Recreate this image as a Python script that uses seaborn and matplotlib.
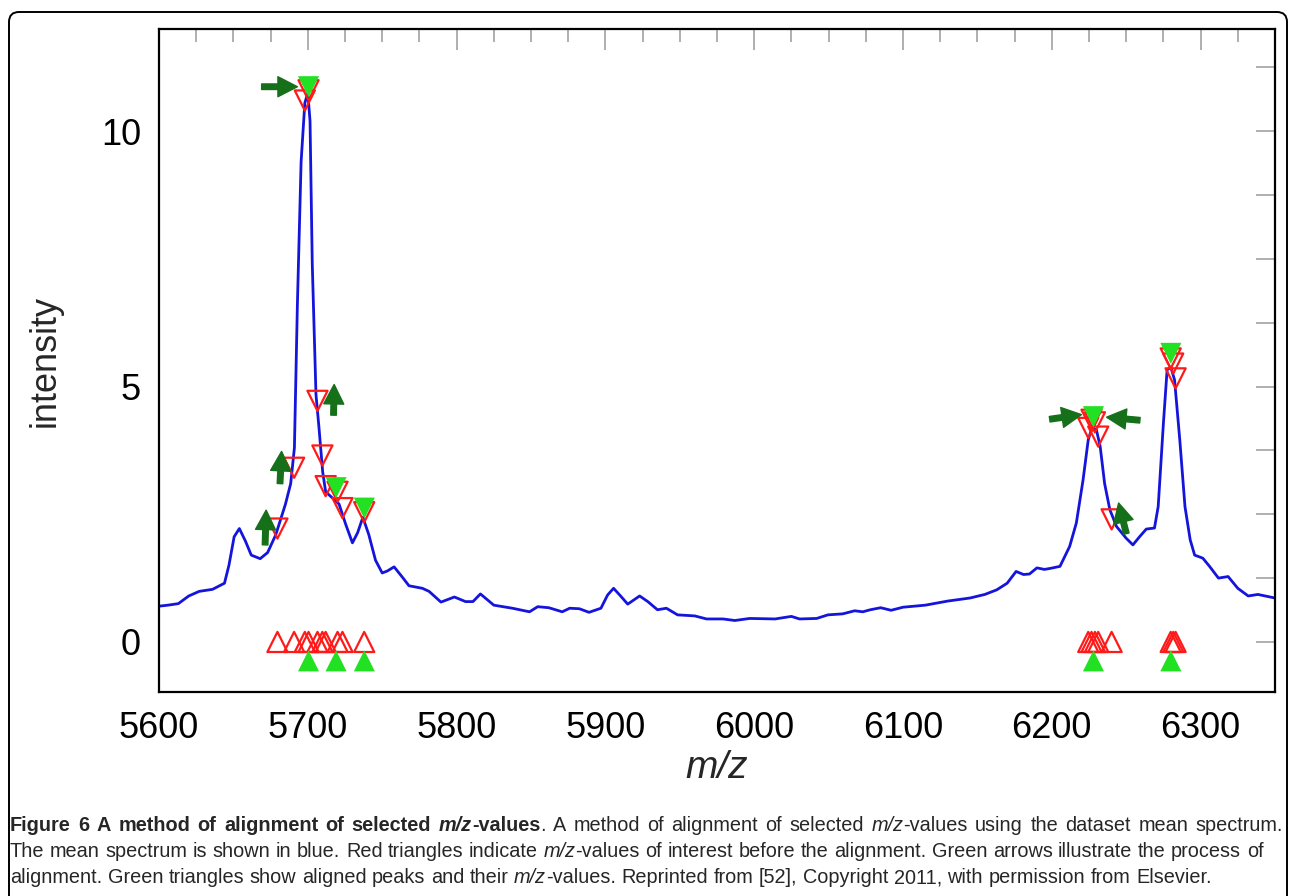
import numpy as np
import pandas as pd
import matplotlib
matplotlib.use("Agg")
import matplotlib.pyplot as plt
from matplotlib.patches import FancyBboxPatch
from matplotlib.ticker import MultipleLocator
import seaborn as sns

# mean spectrum (m/z, intensity)
mz = [5600, 5606, 5613, 5620, 5627, 5636, 5644, 5647, 5650.5, 5654, 5658, 5662,
      5668, 5673, 5678.5, 5685, 5688.5, 5691, 5693, 5695.5, 5698, 5700, 5701.5,
      5703, 5705.5, 5707.5, 5710, 5712, 5716.5, 5721, 5725.5, 5730, 5733.5, 5737,
      5741, 5745.5, 5750, 5753.5, 5758, 5763.5, 5768, 5777, 5781.5, 5789.5, 5798.5,
      5806, 5811, 5816, 5825, 5837.5, 5849, 5854.5, 5862, 5871, 5876, 5882.5, 5889,
      5897, 5901.5, 5905.5, 5910.5, 5915, 5923, 5928.5, 5935, 5941, 5948.5, 5960,
      5968, 5979, 5987, 5997, 6014, 6025, 6030.5, 6042, 6049.5, 6059.5, 6067.5,
      6073, 6078, 6085, 6092, 6100, 6115, 6130, 6145, 6155, 6163, 6170, 6176, 6181,
      6185, 6190, 6195, 6199, 6205.5, 6212, 6216.5, 6221, 6224.5, 6227, 6230,
      6232.5, 6235.5, 6239, 6243.5, 6250, 6254.5, 6259, 6263.5, 6269, 6271.5, 6275,
      6277.5, 6280, 6282.5, 6286, 6289.5, 6293, 6296, 6301.5, 6306, 6312, 6318.5,
      6325, 6332, 6338.5, 6350]
intensity = [0.70, 0.72, 0.75, 0.90, 0.99, 1.03, 1.15, 1.50, 2.06, 2.22, 1.98, 1.70,
             1.63, 1.75, 2.10, 2.70, 3.10, 3.80, 6.60, 9.40, 10.55, 10.75, 10.20,
             7.40, 4.84, 4.20, 3.33, 2.94, 2.82, 2.70, 2.30, 1.94, 2.14, 2.44,
             2.10, 1.60, 1.35, 1.39, 1.47, 1.27, 1.10, 1.05, 0.99, 0.78, 0.88,
             0.79, 0.79, 0.94, 0.72, 0.66, 0.59, 0.69, 0.67, 0.59, 0.66, 0.65, 0.58,
             0.66, 0.92, 1.05, 0.89, 0.74, 0.90, 0.79, 0.63, 0.66, 0.53, 0.51,
             0.45, 0.45, 0.42, 0.46, 0.45, 0.50, 0.45, 0.46, 0.53, 0.55, 0.61,
             0.59, 0.63, 0.67, 0.62, 0.68, 0.72, 0.80, 0.86, 0.93, 1.02, 1.15, 1.38, 1.32,
             1.33, 1.45, 1.42, 1.44, 1.48, 1.87, 2.33, 3.17, 3.96, 4.19, 4.15,
             3.83, 3.10, 2.59, 2.26, 2.03, 1.90, 2.06, 2.21, 2.23, 2.65, 4.28,
             5.33, 5.38, 5.13, 3.96, 2.65, 2.00, 1.70, 1.64, 1.48, 1.25, 1.28,
             1.05, 0.90, 0.93, 0.86]

# m/z values of interest before alignment (red)
red_mz = [5679.6, 5690.8, 5698, 5700.5, 5706.5, 5709.8, 5712, 5720, 5723.3, 5737.9,
          6224.5, 6226.7, 6229, 6231.2, 6240.2, 6279.9, 6281.6, 6283.2]
red_int = [2.22, 3.41, 10.6, 10.8, 4.72, 3.65, 3.05, 2.94, 2.62, 2.54,
           4.19, 4.35, 4.30, 4.02, 2.40, 5.55, 5.45, 5.16]

# aligned peaks (green)
green_mz = [5700.5, 5719, 5738, 6228, 6280]
green_int = [10.87, 3.02, 2.62, 4.41, 5.65]
green_base = -0.37

# alignment arrows: tail (m/z, intensity) -> tip (m/z, intensity)
arrow_tail = [(5669, 10.87), (5671.3, 1.9), (5681.3, 3.1), (5717.3, 4.44),
              (6198.6, 4.36), (6259.2, 4.34), (6250.1, 2.12)]
arrow_tip = [(5693, 10.87), (5672, 2.58), (5682.4, 3.73), (5717.7, 5.04),
             (6219.9, 4.45), (6236.8, 4.40), (6244.9, 2.72)]

spec = pd.DataFrame({"mz": mz, "intensity": intensity})
red = pd.DataFrame({"mz": red_mz, "intensity": red_int})
green = pd.DataFrame({"mz": green_mz, "intensity": green_int})

sns.set_theme(style="white")
plt.rcParams["font.family"] = ["Liberation Sans", "DejaVu Sans"]

W, H = 1293, 896
fig = plt.figure(figsize=(W / 100, H / 100), dpi=100)
ax = fig.add_axes([159 / W, 1 - 692 / H, (1275 - 159) / W, (692 - 29) / H])

sns.lineplot(data=spec, x="mz", y="intensity", ax=ax, color="#1414dc", lw=2.0,
             sort=False, estimator=None, zorder=2)

# red triangles: on the spectrum and on the m/z axis
sns.scatterplot(data=red, x="mz", y="intensity", ax=ax, marker="v", s=210,
                facecolors="none", edgecolor="#ff1a1a", linewidth=1.6, zorder=3)
sns.scatterplot(x=red["mz"], y=np.zeros(len(red)), ax=ax, marker="^", s=210,
                facecolors="none", edgecolor="#ff1a1a", linewidth=1.6, zorder=3)

# green triangles: aligned peaks
sns.scatterplot(data=green, x="mz", y="intensity", ax=ax, marker="v", s=230,
                color="#22e022", edgecolor="none", zorder=4)
sns.scatterplot(x=green["mz"], y=[green_base] * len(green), ax=ax, marker="^", s=230,
                color="#22e022", edgecolor="none", zorder=4)

for (x0, y0), (x1, y1) in zip(arrow_tail, arrow_tip):
    ax.annotate("", xy=(x1, y1), xytext=(x0, y0),
                arrowprops=dict(arrowstyle="simple,head_length=0.7,head_width=0.72,tail_width=0.2",
                                color="#16701a", shrinkA=0, shrinkB=0, mutation_scale=20),
                zorder=5)

ax.set_xlim(5600, 6350)
ax.set_ylim(-0.98, 12.0)
ax.xaxis.set_major_locator(MultipleLocator(100))
ax.xaxis.set_minor_locator(MultipleLocator(25))
ax.yaxis.set_major_locator(MultipleLocator(5))
ax.yaxis.set_minor_locator(MultipleLocator(1.25))
ax.tick_params(which="both", direction="in", top=True, right=True, color="#9a9a9a",
               width=1.1, labelsize=26, labelcolor="black")
ax.tick_params(axis="x", which="major", length=15, pad=14)
ax.tick_params(axis="x", which="minor", length=9.5)
ax.tick_params(axis="y", which="both", length=14, pad=13)
for sp in ax.spines.values():
    sp.set_color("black")
    sp.set_linewidth(1.6)

ax.set_xlabel("m/z", fontsize=28, fontstyle="italic")
ax.set_ylabel("intensity", fontsize=26)
ax.xaxis.set_label_coords(0.5, -0.088)
ax.yaxis.set_label_coords(-0.086, 0.5)

# rounded frame around the whole figure
frame = FancyBboxPatch((0.09, -0.3), 12.78, 8.84 + 0.3,
                       boxstyle="round,pad=0,rounding_size=0.1",
                       transform=fig.dpi_scale_trans, fill=False,
                       edgecolor="black", lw=1.4)
fig.patches.append(frame)

# caption, drawn word by word so bold / italic parts follow each other
fig.canvas.draw()
rend = fig.canvas.get_renderer()
cap_size = 14.3


def text_width(s, **kw):
    t = fig.text(0, 0, s, fontsize=cap_size, **kw)
    w = t.get_window_extent(rend).width
    t.remove()
    return w


space = text_width("a a") - text_width("aa")


def draw_line(y_px, parts, justify_to=None):
    words = []
    pending = 0
    for s, kw in parts:
        for j, p in enumerate(s.split(" ")):
            if j > 0:
                pending += 1
            if p:
                words.append((p, kw, pending, text_width(p, **kw)))
                pending = 0
    x0 = 10.0
    gaps = sum(w[2] for w in words)
    natural = sum(w[3] for w in words) + gaps * space
    sp = space
    if justify_to is not None and gaps:
        sp = space + (justify_to - x0 - natural) / gaps
    x = x0
    for p, kw, n, wd in words:
        x += n * sp
        fig.text(x / W, 1 - y_px / H, p, fontsize=cap_size, va="baseline", **kw)
        x += wd


N = {}
B = {"fontweight": "bold"}
I = {"fontstyle": "italic"}
BI = {"fontweight": "bold", "fontstyle": "italic"}

draw_line(831, [("Figure 6 A method of alignment of selected ", B), ("m/z", BI),
                ("-values", B), (". A method of alignment of selected ", N),
                ("m/z", I), ("-values using the dataset mean spectrum.", N)],
          justify_to=1283)
draw_line(857, [("The mean spectrum is shown in blue. Red triangles indicate ", N),
                ("m/z", I),
                ("-values of interest before the alignment. Green arrows illustrate the process of", N)])
draw_line(883, [("alignment. Green triangles show aligned peaks and their ", N), ("m/z", I),
                ("-values. Reprinted from [52], Copyright 2011, with permission from Elsevier.", N)])

fig.savefig("out.png", dpi=100)
